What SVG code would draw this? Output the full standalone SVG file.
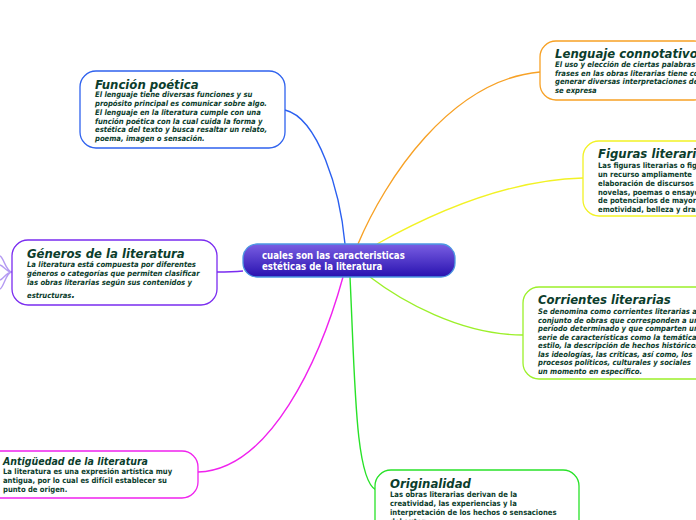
<svg xmlns="http://www.w3.org/2000/svg" width="696" height="520" viewBox="0 0 696 520">
<defs>
<linearGradient id="cg" x1="0" y1="0" x2="0" y2="1">
<stop offset="0" stop-color="#7a5ee2"/>
<stop offset="1" stop-color="#2812b0"/>
</linearGradient>
<style>
.box{fill:#fff;stroke-width:1.3}
.t{font-family:"DejaVu Sans Condensed","DejaVu Sans",sans-serif;font-weight:bold;font-style:italic;fill:#0b3d2c;font-size:13px}
.b{font-family:"DejaVu Sans Condensed","DejaVu Sans",sans-serif;font-weight:bold;fill:#0b3d2c;font-size:7.6px}
.i{font-style:italic}
.c{fill:none;stroke-width:1.4}
.ct{font-family:"DejaVu Sans Condensed","DejaVu Sans",sans-serif;font-weight:bold;fill:#fff;font-size:9.6px}
</style>
</defs>
<rect width="696" height="520" fill="#fff"/>
<g id="connectors">
<path class="c" stroke="#2a5ff0" d="M285,110 C318,118 340,190 345,244"/>
<path class="c" stroke="#f7a125" d="M358,244 C385,180 450,80 540,72"/>
<path class="c" stroke="#f2f225" d="M377,244 C420,220 500,180 583,178"/>
<path class="c" stroke="#9cf02a" d="M370,277 C400,300 460,335 523,335"/>
<path class="c" stroke="#28e228" d="M350,277 C355,380 355,480 376,490"/>
<path class="c" stroke="#f022ee" d="M343,277 C320,360 270,470 198,472"/>
<path class="c" stroke="#7a2cf0" d="M243,271 C232,272 225,272 217,272"/>
<path class="c" stroke="#b49af2" stroke-width="1" d="M12,272 C6,272 4,258 0,256 M12,272 C6,272 4,266 0,265 M12,272 C6,272 4,279 0,280 M12,272 C6,272 4,287 0,289"/>
</g>
<g id="central">
<rect x="243" y="244" width="212" height="33" rx="14" fill="url(#cg)" stroke="#4c98e2" stroke-width="1.3"/>
<text class="ct" x="262" y="259">cuales son las caracteristicas</text>
<text class="ct" x="262" y="270">estéticas de la literatura</text>
</g>
<g id="funcion-poetica">
<rect class="box" x="80" y="71" width="205" height="77" rx="16" stroke="#2f62ee"/>
<text class="t" x="95" y="89">Función poética</text>
<text class="b i" x="95" y="97">El lenguaje tiene diversas funciones y su</text>
<text class="b i" x="95" y="106">propósito principal es comunicar sobre algo.</text>
<text class="b i" x="95" y="115">El lenguaje en la literatura cumple con una</text>
<text class="b i" x="95" y="124">función poética con la cual cuida la forma y</text>
<text class="b i" x="95" y="132">estética del texto y busca resaltar un relato,</text>
<text class="b i" x="95" y="141">poema, imagen o sensación.</text>
</g>
<g id="lenguaje-connotativo">
<rect class="box" x="540" y="41" width="170" height="59" rx="16" stroke="#f7a125"/>
<text class="t" x="555" y="58">Lenguaje connotativo</text>
<text class="b i" x="555" y="67">El uso y elección de ciertas palabras y</text>
<text class="b i" x="555" y="76">frases en las obras literarias tiene como</text>
<text class="b i" x="555" y="84">generar diversas interpretaciones de</text>
<text class="b i" x="555" y="93">se expresa</text>
</g>
<g id="figuras-literarias">
<rect class="box" x="583" y="141" width="130" height="75" rx="16" stroke="#f2f225"/>
<text class="t" x="598" y="158">Figuras literarias</text>
<text class="b" x="598" y="168">Las figuras literarias o figuras</text>
<text class="b" x="598" y="177">un recurso ampliamente</text>
<text class="b" x="598" y="186">elaboración de discursos</text>
<text class="b" x="598" y="195">novelas, poemas o ensayos</text>
<text class="b" x="598" y="203">de potenciarlos de mayor</text>
<text class="b" x="598" y="212">emotividad, belleza y drama</text>
</g>
<g id="corrientes-literarias">
<rect class="box" x="523" y="287" width="190" height="92" rx="16" stroke="#9cf02a"/>
<text class="t" x="538" y="304">Corrientes literarias</text>
<text class="b i" x="538" y="314">Se denomina como corrientes literarias al</text>
<text class="b i" x="538" y="323">conjunto de obras que corresponden a un</text>
<text class="b i" x="538" y="331">período determinado y que comparten una</text>
<text class="b i" x="538" y="340">serie de características como la temática</text>
<text class="b i" x="538" y="348">estilo, la descripción de hechos históricos</text>
<text class="b i" x="538" y="357">las ideologías, las críticas, así como, los</text>
<text class="b i" x="538" y="365">procesos políticos, culturales y sociales</text>
<text class="b i" x="538" y="374">un momento en específico.</text>
</g>
<g id="generos-literatura">
<rect class="box" x="12" y="240" width="205" height="65" rx="16" stroke="#7a2cf0"/>
<text class="t" x="27" y="258">Géneros de la literatura</text>
<text class="b i" x="27" y="267">La literatura está compuesta por diferentes</text>
<text class="b i" x="27" y="276">géneros o categorías que permiten clasificar</text>
<text class="b i" x="27" y="285">las obras literarias según sus contenidos y</text>
<text class="b i" x="27" y="298">estructuras<tspan font-size="10">.</tspan></text>
</g>
<g id="antiguedad-literatura">
<rect class="box" x="-20" y="451" width="218" height="47" rx="16" stroke="#f022ee"/>
<text class="t" x="3" y="465" style="font-size:10.5px">Antigüedad de la literatura</text>
<text class="b" x="3" y="474">La literatura es una expresión artística muy</text>
<text class="b" x="3" y="483">antigua, por lo cual es difícil establecer su</text>
<text class="b" x="3" y="492">punto de origen.</text>
</g>
<g id="originalidad">
<rect class="box" x="375" y="470" width="204" height="70" rx="16" stroke="#28e228"/>
<text class="t" x="390" y="488">Originalidad</text>
<text class="b" x="390" y="497">Las obras literarias derivan de la</text>
<text class="b" x="390" y="506">creatividad, las experiencias y la</text>
<text class="b" x="390" y="515">interpretación de los hechos o sensaciones</text>
<text class="b" x="390" y="524">del autor.</text>
</g>
</svg>
